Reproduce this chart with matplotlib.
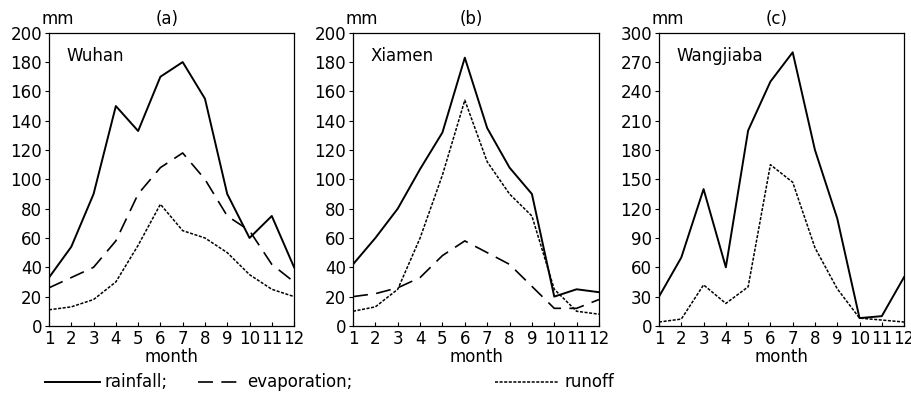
import numpy as np
import matplotlib.pyplot as plt
from matplotlib.lines import Line2D

# months
months = list(range(1, 13))

# Wuhan
wuhan_rain = [33, 54, 90, 150, 133, 170, 180, 155, 90, 60, 75, 40]
wuhan_evap = [26, 33, 40, 58, 90, 108, 118, 100, 75, 65, 42, 30]
wuhan_runoff = [11, 13, 18, 30, 55, 83, 65, 60, 50, 35, 25, 20]

# Xiamen
xiamen_rain = [42, 60, 80, 107, 132, 183, 135, 108, 90, 20, 25, 23]
xiamen_evap = [20, 22, 26, 33, 48, 58, 50, 42, 27, 12, 12, 18]
xiamen_runoff = [10, 13, 25, 60, 103, 154, 112, 90, 75, 25, 10, 8]

# Wangjiaba
wang_rain = [30, 70, 140, 60, 200, 250, 280, 180, 110, 8, 10, 50]
wang_runoff = [4, 7, 42, 23, 40, 165, 147, 80, 38, 8, 6, 4]

plt.rcParams['font.family'] = 'DejaVu Sans'
plt.rcParams['font.size'] = 12

fig = plt.figure(figsize=(9.11, 4.2), dpi=100)

dash_evap = (0, (9, 5))
dash_run = (0, (2, 1))

panels = [
    ([0.0538, 0.224, 0.269, 0.698], '(a)', 'Wuhan', wuhan_rain, wuhan_evap, wuhan_runoff, 200, 20),
    ([0.3875, 0.224, 0.270, 0.698], '(b)', 'Xiamen', xiamen_rain, xiamen_evap, xiamen_runoff, 200, 20),
    ([0.7234, 0.224, 0.269, 0.698], '(c)', 'Wangjiaba', wang_rain, None, wang_runoff, 300, 30),
]

for rect, tag, name, rain, evap, runoff, ymax, step in panels:
    ax = fig.add_axes(rect)
    ax.plot(months, rain, color='black', lw=1.4, ls='-')
    if evap is not None:
        ax.plot(months, evap, color='black', lw=1.2, ls=dash_evap)
    ax.plot(months, runoff, color='black', lw=1.1, ls=dash_run)
    ax.set_xlim(1, 12)
    ax.set_ylim(0, ymax)
    ax.set_xticks(months)
    ax.set_yticks(np.arange(0, ymax + 1, step))
    ax.tick_params(axis='x', direction='in', length=3, pad=3)
    ax.tick_params(axis='y', direction='out', length=3, pad=2)
    for sp in ax.spines.values():
        sp.set_linewidth(0.9)
    ax.set_xlabel('month', labelpad=0)
    ax.text(-0.03, 1.015, 'mm', transform=ax.transAxes, ha='left', va='bottom')
    ax.text(0.48, 1.015, tag, transform=ax.transAxes, ha='center', va='bottom')
    ax.text(0.07, 0.95, name, transform=ax.transAxes, ha='left', va='top')

# legend drawn along the bottom
y_leg = 1 - 382 / 420
fig.add_artist(Line2D([45 / 911, 100 / 911], [y_leg, y_leg], color='black', lw=1.4, ls='-'))
fig.text(105 / 911, y_leg, 'rainfall;', ha='left', va='center')
fig.add_artist(Line2D([198 / 911, 240 / 911], [y_leg, y_leg], color='black', lw=1.2, ls=dash_evap))
fig.text(247 / 911, y_leg, 'evaporation;', ha='left', va='center')
fig.add_artist(Line2D([495 / 911, 558 / 911], [y_leg, y_leg], color='black', lw=1.1, ls=dash_run))
fig.text(565 / 911, y_leg, 'runoff', ha='left', va='center')

fig.savefig('out.png', dpi=100)
